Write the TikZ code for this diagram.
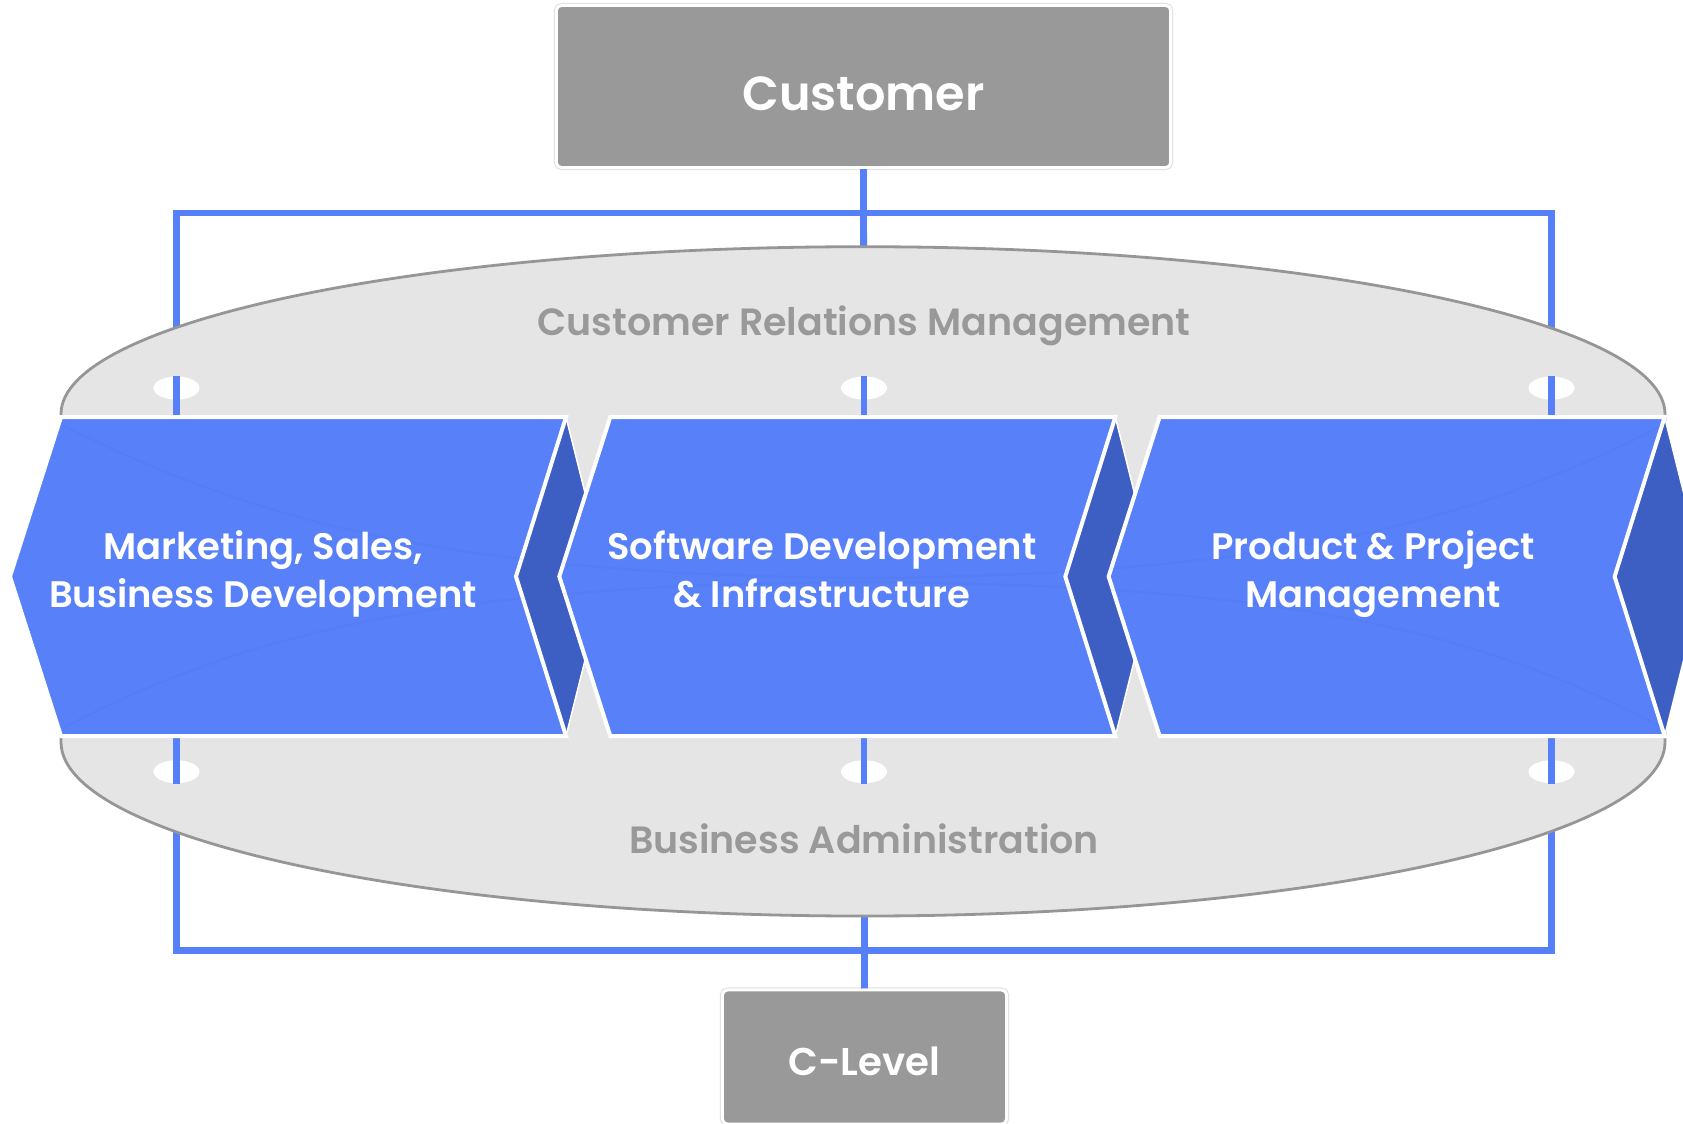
\documentclass[tikz,border=0pt]{standalone}
\usepackage{fontspec}
\newfontfamily\popsb{Poppins SemiBold}
\usetikzlibrary{shapes.geometric}
\definecolor{chevblue}{RGB}{87,128,249}
\definecolor{chevdark}{RGB}{61,94,195}
\definecolor{lineblue}{RGB}{86,127,250}
\definecolor{boxgray}{RGB}{153,153,153}
\definecolor{ellfill}{RGB}{229,229,229}
\definecolor{ellline}{RGB}{150,150,150}
\definecolor{txtgray}{RGB}{153,153,153}
\newcommand\chvtop{\rule{0pt}{0.3cm}}
\newcommand\chvbot{\rule[-0.1cm]{0pt}{0.1cm}}
\begin{document}
\begin{tikzpicture}[x=0.01cm,y=-0.01cm,
  blueline/.style={draw=lineblue, line width=0.068cm},
  graybox/.style={fill=boxgray, draw=white, line width=0.03cm, rounded corners=0.05cm,
    preaction={draw=black!13, line width=0.05cm}, inner sep=0pt, text=white},
  hole/.style={ellipse, fill=white, inner sep=0pt, minimum width=0.46cm, minimum height=0.23cm},
  chevshape/.style={fill=chevblue, draw=white, line width=0.04cm},
  darkshape/.style={fill=chevdark, draw=white, line width=0.015cm},
  chevtext/.style={text=white, align=center, font=\popsb\fontsize{10.5pt}{13.4pt}\selectfont},
  elltext/.style={text=txtgray, anchor=base, font=\popsb\fontsize{10.8pt}{13pt}\selectfont}
]
\useasboundingbox (0,0) rectangle (1683,1123);
\fill[white] (0,0) rectangle (1683,1123);
\clip (0,0) rectangle (1683,1123);

% boxes
\node[graybox, minimum width=6.14cm, minimum height=1.62cm, text height=0.484cm, text depth=0cm,
  font=\popsb\fontsize{13.6pt}{16pt}\selectfont] (cust) at (863.5,86.5) {Customer};
\node[graybox, minimum width=2.84cm, minimum height=1.34cm, text height=0.36cm, text depth=0cm,
  font=\popsb\fontsize{11pt}{13pt}\selectfont] (clevel) at (864.5,1057) {C-Level};

% connector and frame
\coordinate (frA) at (176.5,213);
\coordinate (frB) at (1551.5,950.7);
\draw[blueline] (cust.south) -- (clevel.north);
\draw[blueline] (frA) rectangle (frB);

% ellipse band
\filldraw[fill=ellfill, draw=ellline, line width=0.028cm]
  (61,414) .. controls (61,321.6) and (420.1,246.7) .. (863,246.7)
  .. controls (1305.9,246.7) and (1665,321.6) .. (1665,414)
  -- (1665,742)
  .. controls (1665,838.1) and (1305.9,916) .. (863,916)
  .. controls (420.1,916) and (61,838.1) .. (61,742) -- cycle;

% holes and visible line pieces
\coordinate (ctop) at (0,417);
\coordinate (cbot) at (0,736);
\foreach \hx/\nm in {176.5/a, 864/b, 1551.5/c} {
  \node[hole] (ht\nm) at (\hx,388) {};
  \node[hole] (hb\nm) at (\hx,771.7) {};
  \draw[blueline] (ht\nm.north) -- (ht\nm.north |- ctop);
  \draw[blueline] (hb\nm.south |- cbot) -- (hb\nm.south);
}

\node[elltext] (crm) at (864,335) {Customer Relations Management};
\node[elltext] (ba) at (864,853.3) {Business Administration};

% chevrons
\foreach \x in {61, 610.3, 1159.6} {
  \filldraw[darkshape] (\x+505,417) -- (\x+545,576.5) -- (\x+505,736) -- (\x+455,576.5) -- cycle;
}
\foreach \x in {61, 610.3, 1159.6} {
  \filldraw[chevshape] (\x,417) -- (\x+505,417) -- (\x+455,576.5) -- (\x+505,736) -- (\x,736) -- (\x-51,576.5) -- cycle;
}
% faint ellipse traces seen through the chevrons
\draw[chevdark, opacity=0.07, line width=0.02cm]
  (63,425) .. controls (250,520) and (450,575) .. (864,578) .. controls (1280,575) and (1480,520) .. (1663,425);
\draw[chevdark, opacity=0.07, line width=0.02cm]
  (63,728) .. controls (250,630) and (450,584) .. (864,582) .. controls (1280,584) and (1480,630) .. (1663,728);

\node[chevtext] (t1) at (263,573.5) {\chvtop Marketing, Sales,\\Business Development\chvbot};
\node[chevtext] (t2) at (822,573.5) {\chvtop Software Development\\\& Infrastructure\chvbot};
\node[chevtext] (t3) at (1373,573.5) {\chvtop Product \& Project\\Management\chvbot};
\end{tikzpicture}
\end{document}
